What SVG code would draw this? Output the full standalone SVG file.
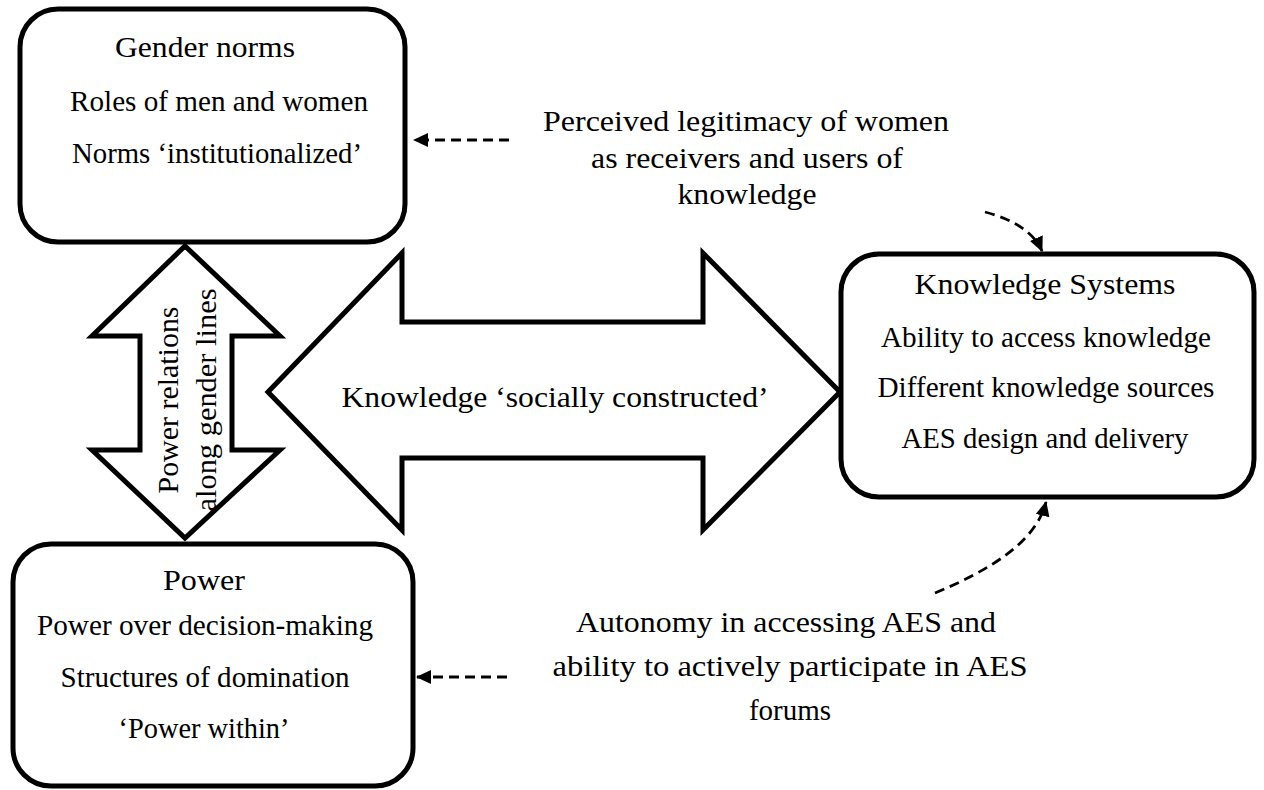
<svg xmlns="http://www.w3.org/2000/svg" width="1264" height="790" viewBox="0 0 1264 790">
<style>
.box{fill:#fff;stroke:#000;stroke-width:5}
.shape{fill:#fff;stroke:#000;stroke-width:5;stroke-linejoin:miter}
.t{font-family:"Liberation Serif","Times New Roman",serif;font-size:29px;fill:#000;text-anchor:middle}
.dash{fill:none;stroke:#000;stroke-width:2.8;stroke-dasharray:10 6}
</style>
<defs>
<marker id="ah" markerUnits="userSpaceOnUse" markerWidth="16" markerHeight="14" refX="14" refY="7" orient="auto">
<path d="M0,0 L15,7 L0,14 z" fill="#000"/>
</marker>
</defs>
<rect width="1264" height="790" fill="#fff"/>

<g id="connectors">
<polygon id="power-relations-arrow" class="shape" points="185,246 280,336 232,336 232,450 280,450 185,538 92,450 140,450 140,336 92,336"/>
<polygon id="knowledge-arrow" class="shape" points="268,392 402,253 402,322 703,322 703,253 840,392 703,530 703,458 402,458 402,530"/>
<path class="dash" d="M509,140 L414,140" marker-end="url(#ah)"/>
<path class="dash" d="M507,677 L417,677" marker-end="url(#ah)"/>
<path class="dash" d="M985,212 Q1030,224 1042,251" marker-end="url(#ah)"/>
<path class="dash" d="M935,593 C990,570 1036,542 1046,502" marker-end="url(#ah)"/>
</g>

<g id="power-relations-label">
<text class="t" x="178" y="400" transform="rotate(-90 178 400)" textLength="187" lengthAdjust="spacingAndGlyphs">Power relations</text>
<text class="t" x="216" y="400" transform="rotate(-90 216 400)" textLength="223" lengthAdjust="spacingAndGlyphs">along gender lines</text>
</g>
<g id="knowledge-label">
<text class="t" x="555" y="407" textLength="427" lengthAdjust="spacingAndGlyphs">Knowledge ‘socially constructed’</text>
</g>

<g id="gender-norms">
<rect class="box" x="20" y="9" width="385" height="233" rx="38"/>
<text class="t" x="205" y="57" textLength="180" lengthAdjust="spacingAndGlyphs">Gender norms</text>
<text class="t" x="219" y="111" textLength="298" lengthAdjust="spacingAndGlyphs">Roles of men and women</text>
<text class="t" x="217" y="163" textLength="290" lengthAdjust="spacingAndGlyphs">Norms ‘institutionalized’</text>
</g>

<g id="power">
<rect class="box" x="13" y="544" width="400" height="242" rx="38"/>
<text class="t" x="204" y="590" textLength="82" lengthAdjust="spacingAndGlyphs">Power</text>
<text class="t" x="205" y="635" textLength="336" lengthAdjust="spacingAndGlyphs">Power over decision-making</text>
<text class="t" x="205" y="687" textLength="289" lengthAdjust="spacingAndGlyphs">Structures of domination</text>
<text class="t" x="204" y="738" textLength="171" lengthAdjust="spacingAndGlyphs">‘Power within’</text>
</g>

<g id="knowledge-systems">
<rect class="box" x="841" y="254" width="413" height="243" rx="38"/>
<text class="t" x="1045" y="294" textLength="261" lengthAdjust="spacingAndGlyphs">Knowledge Systems</text>
<text class="t" x="1046" y="347" textLength="330" lengthAdjust="spacingAndGlyphs">Ability to access knowledge</text>
<text class="t" x="1046" y="397" textLength="337" lengthAdjust="spacingAndGlyphs">Different knowledge sources</text>
<text class="t" x="1045" y="448" textLength="287" lengthAdjust="spacingAndGlyphs">AES design and delivery</text>
</g>

<g id="perceived-legitimacy">
<text class="t" x="746" y="131" textLength="406" lengthAdjust="spacingAndGlyphs">Perceived legitimacy of women</text>
<text class="t" x="747" y="168" textLength="312" lengthAdjust="spacingAndGlyphs">as receivers and users of</text>
<text class="t" x="747" y="204" textLength="139" lengthAdjust="spacingAndGlyphs">knowledge</text>
</g>

<g id="autonomy">
<text class="t" x="786" y="632" textLength="420" lengthAdjust="spacingAndGlyphs">Autonomy in accessing AES and</text>
<text class="t" x="790" y="676" textLength="475" lengthAdjust="spacingAndGlyphs">ability to actively participate in AES</text>
<text class="t" x="790" y="720">forums</text>
</g>
</svg>
